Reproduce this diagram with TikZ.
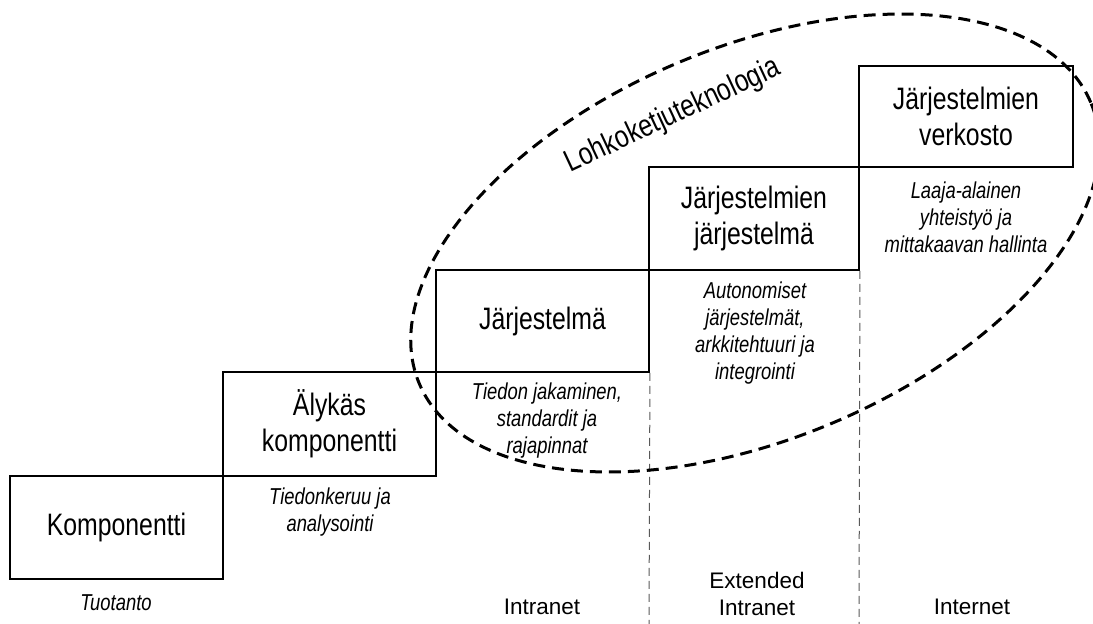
\documentclass[tikz,border=0pt]{standalone}
\usepackage{fontspec}
\setmainfont{Liberation Sans}
\newfontfamily\condfont{Liberation Sans}[FakeStretch=0.8]
\begin{document}
\begin{tikzpicture}[x=1pt,y=-1pt,
  stepbox/.style={draw=black,line width=1.9pt,rectangle,inner sep=0pt,align=center,
    font=\condfont\fontsize{31}{36}\selectfont},
  desc/.style={inner sep=0pt,align=center,font=\condfont\itshape\fontsize{23}{27}\selectfont},
  zone/.style={inner sep=0pt,align=center,font=\fontsize{22.5}{27}\selectfont},
  vdash/.style={draw=black!65,line width=1pt,dash pattern=on 8pt off 5pt},
  chain/.style={draw=black,line width=3pt,dash pattern=on 12pt off 7pt}]
\useasboundingbox (0,0) rectangle (1093,624);
\clip (0,0) rectangle (1093,624);
% dashed separators
\coordinate (v1) at (649,624);
\coordinate (v2) at (859,624);
% boxes
\node[stepbox,minimum width=213pt,minimum height=103pt] (b1) at (116.5,527.5) {Komponentti};
\node[stepbox,minimum width=213pt,minimum height=104pt] (b2) at (329.5,424) {Älykäs\\komponentti};
\node[stepbox,minimum width=213pt,minimum height=102pt] (b3) at (542.5,321) {Järjestelmä};
\node[stepbox,minimum width=210pt,minimum height=103pt] (b4) at (754,218.5) {Järjestelmien\\järjestelmä};
\node[stepbox,minimum width=214pt,minimum height=101pt] (b5) at (966,116.5) {Järjestelmien\\verkosto};
\draw[vdash] (b3.south east) -- (v1);
\draw[vdash] (b4.south east) -- (v2);
% descriptions
\node[desc] (d1) at (116,603) {Tuotanto};
\node[desc] (d2) at (330,512) {Tiedonkeruu ja\\analysointi};
\node[desc] (d3) at (547,421) {Tiedon jakaminen,\\standardit ja\\rajapinnat};
\node[desc] (d4) at (755,333) {Autonomiset\\järjestelmät,\\arkkitehtuuri ja\\integrointi};
\node[desc] (d5) at (966,217) {Laaja-alainen\\yhteistyö ja\\mittakaavan hallinta};
% zones
\node[zone] (z1) at (542,607) {Intranet};
\node[zone] (z2) at (757,594) {Extended\\Intranet};
\node[zone] (z3) at (972,607) {Internet};
% blockchain ellipse
\draw[chain,rotate around={22.7:(755,243)}] (755,243) ellipse [x radius=364pt, y radius=196pt];
\node[inner sep=0pt,rotate=25,font=\condfont\fontsize{31}{36}\selectfont] (lohko) at (673,116) {Lohkoketjuteknologia};
\end{tikzpicture}
\end{document}
